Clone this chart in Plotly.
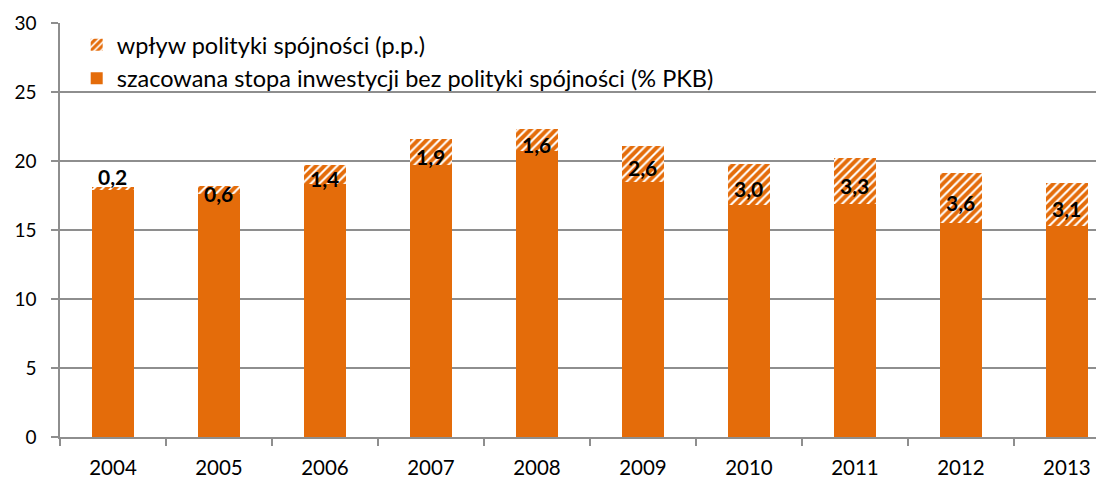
import plotly.graph_objects as go

years = ["2004", "2005", "2006", "2007", "2008", "2009", "2010", "2011", "2012", "2013"]
base = [17.9, 17.6, 18.3, 19.7, 20.7, 18.5, 16.8, 16.9, 15.5, 15.3]
impact = [0.2, 0.6, 1.4, 1.9, 1.6, 2.6, 3.0, 3.3, 3.6, 3.1]
impact_labels = ["0,2", "0,6", "1,4", "1,9", "1,6", "2,6", "3,0", "3,3", "3,6", "3,1"]

name_impact = "wpływ polityki spójności (p.p.)"
name_base = "szacowana stopa inwestycji bez polityki spójności (% PKB)"

ORANGE = "#E46C0A"
GRID = "#8E8E8E"
FONT = "Lato"

fig = go.Figure()
fig.add_trace(go.Bar(
    x=years, y=base, name=name_base, width=0.4,
    marker=dict(color=ORANGE, line=dict(width=0)),
))
fig.add_trace(go.Bar(
    x=years, y=impact, name=name_impact, width=0.4,
    marker=dict(color=ORANGE, line=dict(width=0),
                pattern=dict(shape="/", fgcolor=ORANGE, bgcolor="white",
                             size=6, solidity=0.65, fgopacity=1)),
))

annotations = []
for i, (b, p, lab) in enumerate(zip(base, impact, impact_labels)):
    lab_font = dict(family=FONT, size=21, color="black", weight="bold")
    if p < 0.5:
        annotations.append(dict(x=i, y=b + p, xref="x", yref="y", text=lab, showarrow=False,
                                yanchor="bottom", yshift=-4, font=lab_font))
    else:
        annotations.append(dict(x=i, y=b + p / 2, xref="x", yref="y", text=lab, showarrow=False,
                                yanchor="middle", yshift=-4, font=lab_font))

fig.update_layout(
    width=1096, height=473,
    margin=dict(l=52, r=0, t=15, b=44),
    barmode="stack",
    plot_bgcolor="white", paper_bgcolor="white",
    font=dict(family=FONT, color="black"),
    showlegend=True,
    legend=dict(x=0.016, y=1.0, xanchor="left", yanchor="top",
                bgcolor="rgba(0,0,0,0)", font=dict(size=23.5, family=FONT),
                traceorder="reversed"),
    annotations=annotations,
    xaxis=dict(type="category", range=[-0.5, 9.35], showgrid=False, automargin=False,
               showline=True, linecolor=GRID, linewidth=1.5,
               ticks="outside", tickson="boundaries", ticklen=7, tickcolor=GRID, tickwidth=1.5,
               tickfont=dict(size=20.5, family=FONT), ticklabelstandoff=12),
    yaxis=dict(range=[0, 30], dtick=5, showgrid=True, gridcolor=GRID, gridwidth=1.5,
               automargin=False,
               showline=True, linecolor=GRID, linewidth=1.5, zeroline=False,
               ticks="outside", ticklen=7, tickcolor=GRID, tickwidth=1.5,
               tickfont=dict(size=19, family=FONT), ticklabelstandoff=11),
)

fig.write_html("out.html")
